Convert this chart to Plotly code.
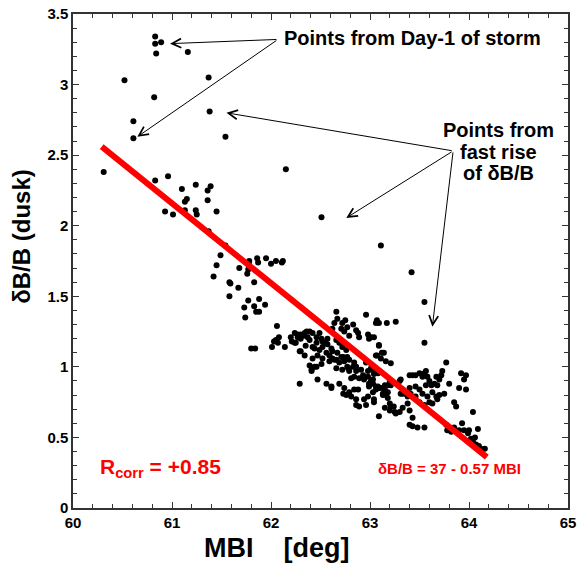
import plotly.graph_objects as go

# ---- data ----
# isolated high points (Day-1 of storm, fast rise)
up_mbi = [60.83, 60.83, 60.89, 60.84, 61.16, 60.52, 61.37, 60.82, 60.61, 60.61,
          61.38, 61.54, 60.31, 62.15, 62.51, 63.11, 63.42, 63.55, 63.55]
up_dbb = [3.34, 3.29, 3.30, 3.22, 3.23, 3.03, 3.05, 2.91, 2.74, 2.62,
          2.81, 2.63, 2.38, 2.40, 2.06, 1.86, 1.67, 1.46, 1.17]

# 60.8 - 61.6 group
g2_mbi = [60.83, 60.96, 61.10, 61.24, 61.39, 61.36, 61.15, 61.13, 61.36, 60.93,
          61.01, 61.13, 61.24, 61.25, 61.45, 61.37, 61.54, 61.49]
g2_dbb = [2.32, 2.35, 2.26, 2.29, 2.28, 2.25, 2.19, 2.17, 2.18, 2.10,
          2.08, 2.11, 2.11, 2.08, 2.10, 1.96, 1.86, 1.79]

# 61.4 - 62.2 group
g3_mbi = [61.45, 61.42, 61.68, 61.78, 61.78, 61.86, 61.87, 61.95, 62.00, 62.05,
          62.11, 61.76, 61.77, 61.58, 61.59, 61.67, 61.83, 61.58, 61.77, 61.88,
          61.73, 61.83, 61.94, 61.85, 61.88, 61.74, 62.06, 61.80, 61.84, 62.01,
          62.14, 62.05, 62.03, 62.08, 62.07, 62.12]
g3_dbb = [1.72, 1.64, 1.70, 1.75, 1.72, 1.77, 1.74, 1.77, 1.73, 1.75,
          1.74, 1.66, 1.69, 1.60, 1.59, 1.56, 1.60, 1.50, 1.47, 1.48,
          1.42, 1.43, 1.44, 1.39, 1.39, 1.35, 1.29, 1.13, 1.13, 1.14,
          1.14, 1.19, 1.18, 1.21, 1.17, 1.75]

# dense cluster 62.2 - 63.1
g4_mbi = [62.20, 62.21, 62.24, 62.27, 62.24, 62.30, 62.34, 62.37, 62.39, 62.42,
          62.46, 62.49, 62.51, 62.52, 62.46, 62.42, 62.39, 62.30, 62.44, 62.49,
          62.52, 62.56, 62.54, 62.42, 62.47, 62.52, 62.59, 62.62, 62.61, 62.39,
          62.41, 62.46, 62.51, 62.59, 62.66, 62.29, 62.47, 62.56, 62.61, 62.44,
          62.66, 62.67, 62.72, 62.77, 62.83, 62.86, 62.88, 62.74, 62.71, 62.64,
          62.62, 62.79, 62.89, 62.96, 63.06, 63.04, 62.98, 63.07, 63.09, 63.17,
          63.26, 62.75, 62.66, 62.69, 62.72, 62.76, 62.67, 62.71, 62.62, 62.77,
          62.79, 62.84, 62.86, 62.77, 62.74, 62.69, 62.66, 62.72, 62.79, 62.86,
          62.91, 62.93, 62.98, 63.01, 63.04, 63.03, 62.99, 62.94, 62.89, 62.84,
          62.81, 63.01, 62.99, 63.09, 63.07, 63.11, 63.16, 63.21, 63.12, 62.25,
          62.29, 62.34, 62.41, 62.57, 62.64, 62.73, 62.78, 62.83, 62.96, 62.98,
          62.30, 62.33, 62.36, 62.57, 62.35, 62.27]
g4_dbb = [1.21, 1.18, 1.24, 1.21, 1.17, 1.23, 1.24, 1.21, 1.25, 1.24,
          1.21, 1.24, 1.20, 1.18, 1.17, 1.14, 1.19, 1.11, 1.13, 1.12,
          1.14, 1.10, 1.17, 1.06, 1.08, 1.06, 1.08, 1.11, 1.13, 1.01,
          0.98, 1.00, 1.02, 1.04, 1.05, 0.88, 0.91, 0.88, 0.86, 1.00,
          1.39, 1.34, 1.31, 1.28, 1.30, 1.26, 1.24, 1.25, 1.27, 1.31,
          1.27, 1.22, 1.21, 1.37, 1.31, 1.21, 1.23, 1.33, 1.31, 1.31,
          1.32, 1.33, 1.19, 1.17, 1.14, 1.12, 1.10, 1.07, 1.06, 1.07,
          1.05, 1.03, 1.00, 1.00, 1.04, 1.03, 0.99, 0.98, 0.97, 0.97,
          0.98, 0.94, 0.97, 0.99, 0.95, 0.91, 0.88, 0.91, 0.92, 0.93,
          0.92, 1.21, 1.20, 1.15, 1.08, 1.06, 1.04, 1.025, 1.10, 1.17,
          1.11, 1.08, 0.97, 1.16, 1.05, 1.07, 0.99, 1.00, 1.03, 0.93,
          1.20, 1.22, 1.25, 1.20, 1.15, 1.23]

# lower part of the cluster 62.6 - 63.4
g5_mbi = [62.61, 62.69, 62.74, 62.73, 62.76, 62.79, 62.81, 62.84, 62.88, 62.86,
          62.86, 62.94, 62.96, 62.99, 63.03, 63.04, 63.08, 63.11, 63.13, 63.15,
          63.18, 63.18, 63.20, 63.21, 63.20, 63.25, 63.26, 63.30, 63.09, 63.33,
          63.38, 63.40, 62.89, 62.98, 63.06, 63.01]
g5_dbb = [0.85, 0.88, 0.85, 0.81, 0.80, 0.82, 0.79, 0.84, 0.84, 0.77,
          0.73, 0.77, 0.73, 0.86, 0.82, 0.75, 0.86, 0.85, 0.81, 0.87,
          0.82, 0.78, 0.74, 0.72, 0.69, 0.68, 0.67, 0.68, 0.65, 0.81,
          0.79, 0.59, 0.72, 0.79, 0.84, 0.90]

# right cluster 63.0 - 64.2
g6_mbi = [63.09, 63.14, 63.06, 63.04, 63.08, 63.03, 63.06, 63.09, 63.15, 63.16,
          63.13, 63.18, 63.20, 63.04, 63.15, 63.24, 63.33, 63.40, 63.43, 63.43,
          63.48, 63.55, 63.55, 63.50, 63.46, 63.41, 63.40, 63.31, 63.33, 63.38,
          63.31, 63.40, 63.43, 63.46, 63.50, 63.53, 63.55, 63.565, 63.58, 63.60,
          63.565, 63.62, 63.65, 63.68, 63.70, 63.67, 63.73, 63.72, 63.77, 63.80,
          63.75, 63.70, 63.63, 63.67, 63.68, 63.63, 63.60, 63.58, 63.53, 63.50,
          63.46, 63.85, 63.87, 63.90, 63.92, 63.97, 63.95, 63.97, 64.04, 64.00,
          63.85, 63.90, 63.95, 63.99, 64.02, 64.04, 64.07, 64.10, 64.09, 63.77,
          63.78, 63.82, 64.12, 64.16, 64.10, 63.93, 64.06, 63.36, 63.30, 63.21]
g6_dbb = [1.155, 1.10, 1.08, 0.97, 0.955, 0.88, 0.86, 0.85, 0.84, 0.80,
          0.80, 0.87, 0.90, 0.77, 0.71, 0.72, 0.71, 0.69, 0.64, 0.58,
          0.57, 0.57, 0.73, 0.75, 0.79, 0.81, 0.85, 0.81, 0.84, 0.74,
          0.91, 0.94, 0.94, 0.94, 0.955, 0.93, 0.955, 0.97, 0.93, 0.90,
          0.87, 0.87, 0.88, 0.87, 0.91, 0.93, 0.97, 0.94, 1.03, 0.88,
          0.81, 0.80, 0.82, 0.79, 0.77, 0.74, 0.75, 0.79, 0.81, 0.84,
          0.86, 0.75, 0.72, 0.85, 0.955, 0.94, 0.91, 0.84, 0.68, 0.55,
          0.57, 0.55, 0.55, 0.53, 0.49, 0.47, 0.45, 0.42, 0.56, 0.59,
          0.55, 0.54, 0.42, 0.42, 0.44, 0.60, 0.50, 0.81, 0.90, 0.87]

# fitted line  dB/B = 37 - 0.57 MBI (drawn between its end points)
fit_mbi = [60.29, 64.18]
fit_dbb = [2.56, 0.36]

x_ticks = [60, 61, 62, 63, 64, 65]
y_ticks = [0, 0.5, 1, 1.5, 2, 2.5, 3, 3.5]

all_mbi = up_mbi + g2_mbi + g3_mbi + g4_mbi + g5_mbi + g6_mbi
all_dbb = up_dbb + g2_dbb + g3_dbb + g4_dbb + g5_dbb + g6_dbb

FONT = "Liberation Sans, Arial, Helvetica, sans-serif"

fig = go.Figure()
fig.add_trace(go.Scatter(x=all_mbi, y=all_dbb, mode="markers",
                         marker=dict(color="black", size=6, line=dict(width=0)),
                         showlegend=False, hoverinfo="skip"))
fig.add_trace(go.Scatter(x=fit_mbi, y=fit_dbb, mode="lines",
                         line=dict(color="#ff0000", width=6),
                         showlegend=False, hoverinfo="skip"))

axis_common = dict(
    showgrid=False, zeroline=False, showline=True, linecolor="#333333",
    linewidth=1.5, mirror="ticks", ticks="inside", ticklen=6, tickwidth=1,
    tickcolor="#333333", automargin=False,
    tickfont=dict(family=FONT, size=15, color="black", weight="bold"),
)
fig.update_xaxes(range=[60, 65], tickvals=x_ticks,
                 minor=dict(dtick=0.2, ticks="inside", ticklen=4, tickcolor="#333333"),
                 **axis_common)
fig.update_yaxes(range=[0, 3.5], tickvals=y_ticks,
                 minor=dict(dtick=0.1, ticks="inside", ticklen=4, tickcolor="#333333"),
                 **axis_common)

ann = []
# arrows: Day-1 of storm
for hx, hy in [(60.98, 3.29), (60.65, 2.63)]:
    ann.append(dict(x=hx, y=hy, ax=62.07, ay=3.32, xref="x", yref="y",
                    axref="x", ayref="y", text="", showarrow=True,
                    arrowhead=5, arrowsize=1.8, arrowwidth=1, arrowcolor="black",
                    standoff=0, startstandoff=0))
# arrows: fast rise
for hx, hy in [(61.55, 2.80), (62.76, 2.055), (63.63, 1.285)]:
    ann.append(dict(x=hx, y=hy, ax=63.84, ay=2.53, xref="x", yref="y",
                    axref="x", ayref="y", text="", showarrow=True,
                    arrowhead=5, arrowsize=1.8, arrowwidth=1, arrowcolor="black",
                    standoff=0, startstandoff=0))

ann.append(dict(x=62.11, y=3.33, xref="x", yref="y", xanchor="left", yanchor="middle",
                text="<b>Points from Day-1 of storm</b>", showarrow=False,
                font=dict(family=FONT, size=20, color="black")))
for txt, yy in [("Points from", 2.68), ("fast rise", 2.525), ("of δB/B", 2.37)]:
    ann.append(dict(x=64.30, y=yy, xref="x", yref="y", xanchor="center", yanchor="middle",
                    text="<b>" + txt + "</b>", showarrow=False,
                    font=dict(family=FONT, size=20, color="black")))
ann.append(dict(x=60.25, y=0.28, xref="x", yref="y", xanchor="left", yanchor="middle",
                text="<b>R<sub>corr</sub> = +0.85</b>", showarrow=False,
                font=dict(family=FONT, size=21, color="#ff0000")))
ann.append(dict(x=63.80, y=0.28, xref="x", yref="y", xanchor="center", yanchor="middle",
                text="<b>δB/B = 37 - 0.57 MBI</b>", showarrow=False,
                font=dict(family=FONT, size=15, color="#ff0000")))
# axis titles
ann.append(dict(x=0.412, y=-0.081, xref="paper", yref="paper", xanchor="center",
                yanchor="middle", text="<b>MBI    [deg]</b>", showarrow=False,
                font=dict(family=FONT, size=27, color="black")))
ann.append(dict(x=-0.103, y=0.549, xref="paper", yref="paper", xanchor="center",
                yanchor="middle", text="<b>δB/B (dusk)</b>", showarrow=False,
                textangle=-90, font=dict(family=FONT, size=24, color="black")))

fig.update_layout(
    width=583, height=569,
    margin=dict(l=73, r=15, t=14, b=61),
    plot_bgcolor="white", paper_bgcolor="white",
    annotations=ann,
    showlegend=False,
)

fig.write_html("out.html")
